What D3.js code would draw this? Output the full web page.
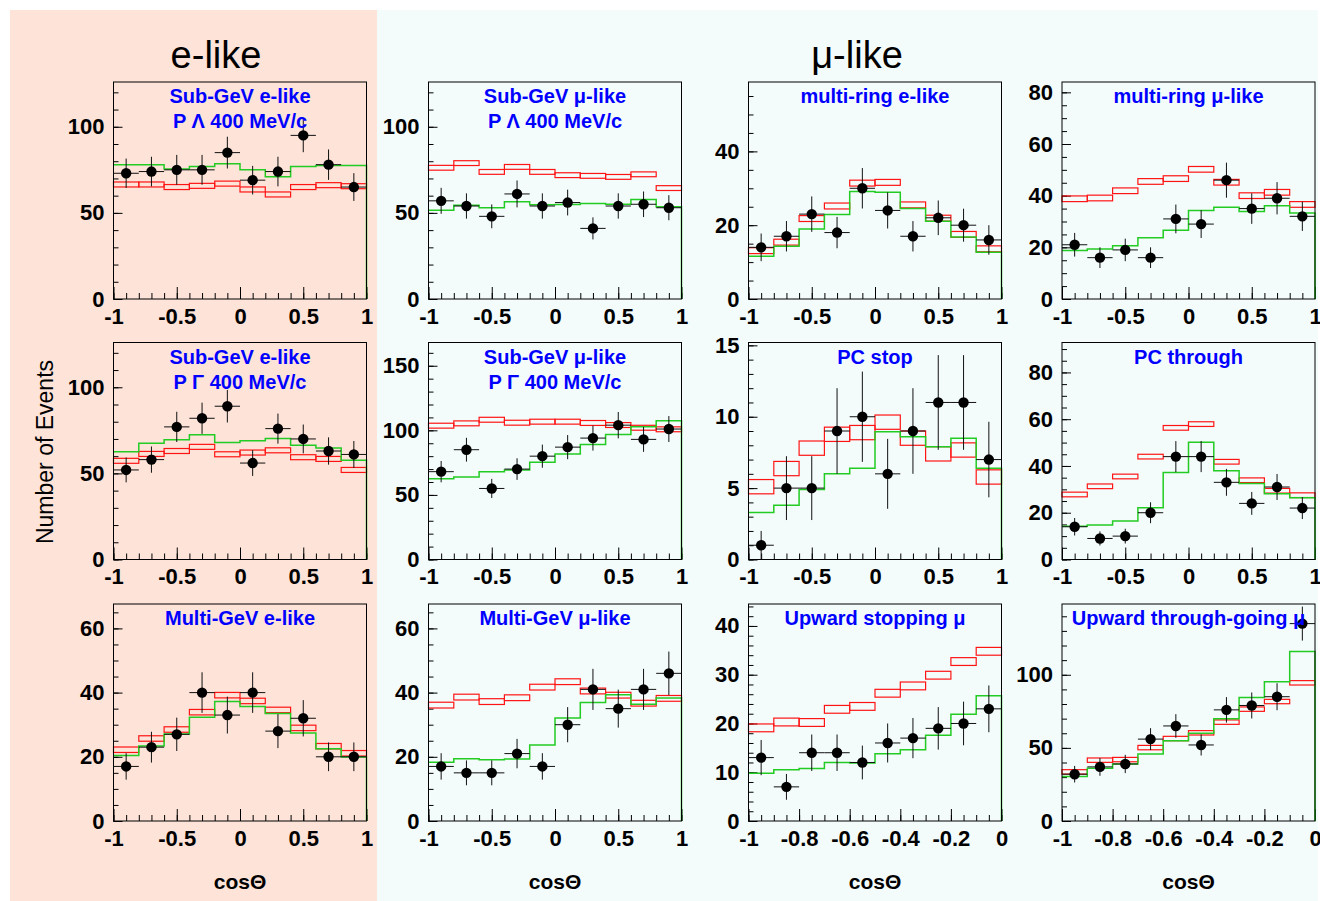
<!DOCTYPE html>
<html>
<head>
<meta charset="utf-8">
<title>Zenith angle distributions</title>
<script src="https://cdn.jsdelivr.net/npm/d3@7"></script>
<style>
  body { margin: 0; background: #fff; }
  svg { display: block; font-family: "Liberation Sans", Arial, Helvetica, sans-serif; }
  .frame { fill: none; stroke: #000; stroke-width: 1; }
  .axis text { font-size: 22px; font-weight: bold; fill: #000; font-family: "Liberation Sans", Arial, sans-serif; }
  .axis line { stroke: #000; stroke-width: 1; }
  .title { font-size: 20px; font-weight: bold; fill: #0000ff; }
  .osc { fill: none; stroke: #22cc22; stroke-width: 1.5; }
  .noosc { fill: none; stroke: #ff1414; stroke-width: 1.2; }
  .err { stroke: #111; stroke-width: 1; }
</style>
</head>
<body>
<svg width="1320" height="901"></svg>
<script>
// bin edges in cos(theta)
var binsFull = [-1, -0.8, -0.6, -0.4, -0.2, 0, 0.2, 0.4, 0.6, 0.8, 1];
var binsUp = [-1, -0.9, -0.8, -0.7, -0.6, -0.5, -0.4, -0.3, -0.2, -0.1, 0];

// tick labels
var ticksFull = [-1, -0.5, 0, 0.5, 1];
var ticksUp = [-1, -0.8, -0.6, -0.4, -0.2, 0];

// data points (events per bin), red = no oscillation band centre, green = oscillation fit
var obsSubGeVeLow   = [73, 74, 75, 75, 85, 69, 74, 95, 78, 65];
var nooscSubGeVeLow = [66.5, 66.5, 65, 65.7, 67, 63.6, 60.7, 65, 66.1, 65.5];
var oscSubGeVeLow   = [78, 78, 75.5, 77, 78.5, 75, 71, 77, 77.5, 77.5];

var obsSubGeVmuLow   = [57, 54, 48, 61, 54, 56, 41, 54, 55, 53];
var nooscSubGeVmuLow = [76.2, 78.9, 73.8, 76.7, 73.8, 71.9, 71.5, 70.9, 72.4, 64.4];
var oscSubGeVmuLow   = [51.5, 54.5, 53, 56.4, 54.7, 54.8, 55.4, 55, 57.8, 53.5];

var obsMultiRingE   = [14, 17, 23, 18, 30, 24, 17, 22, 20, 16];
var nooscMultiRingE = [13.1, 15.4, 21.8, 25.2, 31.4, 31.6, 25.5, 21.9, 17.5, 13.6];
var oscMultiRingE   = [11.6, 14.3, 19, 22.9, 29.1, 28.9, 24.5, 21.1, 16.8, 12.7];

var obsMultiRingMu   = [21, 16, 19, 16, 31, 29, 46, 35, 39, 32];
var nooscMultiRingMu = [38.8, 39.1, 41.9, 45.5, 46.6, 50.2, 45.2, 40, 41.3, 36.6];
var oscMultiRingMu   = [18.8, 19.4, 20.6, 23.7, 26.6, 34.3, 35.5, 33.9, 36.1, 33.3];

var obsSubGeVeHigh   = [52, 58, 77, 82, 89, 56, 76, 70, 63, 61];
var nooscSubGeVeHigh = [57.3, 61.3, 63, 65.4, 61.1, 62.1, 63.4, 59.4, 58.4, 52];
var oscSubGeVeHigh   = [62.5, 67.5, 69.6, 72.5, 67.9, 68.9, 70.2, 66.3, 64.8, 57.6];

var obsSubGeVmuHigh   = [68, 85, 55, 70, 80, 87, 94, 104, 93, 101];
var nooscSubGeVmuHigh = [103.6, 105.4, 108.2, 105.9, 106.7, 106.7, 105.7, 104.1, 102, 100.8];
var oscSubGeVmuHigh   = [62.5, 63.8, 67.9, 69.2, 75.3, 81.7, 89, 96.7, 102.8, 107.5];

var obsPCStop   = [1, 5, 5, 9, 10, 6, 9, 11, 11, 7];
var nooscPCStop = [5.1, 6.37, 7.8, 8.77, 8.89, 9.62, 8.5, 7.4, 7.67, 5.78];
var oscPCStop   = [3.3, 3.8, 4.9, 6, 6.4, 8.95, 8.6, 7.9, 8.5, 6.4];

var obsPCThrough   = [14, 9, 10, 20, 44, 44, 33, 24, 31, 22];
var nooscPCThrough = [27.8, 31.3, 35.5, 44, 56.3, 57.9, 41.8, 33.9, 29.4, 27.5];
var oscPCThrough   = [14.2, 14.8, 16.5, 22.1, 37.2, 50.1, 38, 32.5, 28.1, 26.4];

var obsMultiGeVe   = [17, 23, 27, 40, 33, 40, 28, 32, 20, 20];
var nooscMultiGeVe = [22.2, 25.7, 28.5, 33.9, 39.2, 37.4, 34.6, 29, 23.3, 21.1];
var oscMultiGeVe   = [20.4, 23.4, 27.1, 32.3, 37.2, 35.7, 33.5, 27.4, 22.5, 19.9];

var obsMultiGeVmu   = [17, 15, 15, 21, 17, 30, 41, 35, 41, 46];
var nooscMultiGeVmu = [36.1, 38.6, 37.2, 38.4, 41.7, 43.4, 40.5, 39.2, 36.7, 38.2];
var oscMultiGeVmu   = [18.3, 19.4, 19.1, 19.3, 23.7, 32.1, 36.9, 39.3, 36.4, 38.3];

var obsUpStop   = [13, 7, 14, 14, 12, 16, 17, 19, 20, 23];
var nooscUpStop = [19.1, 20.3, 20.2, 22.9, 23.5, 26.2, 27.7, 29.9, 32.7, 34.8];
var oscUpStop   = [9.8, 10.5, 10.75, 12, 11.9, 13.8, 14.6, 17.6, 21.9, 25.7];

var obsUpThru   = [32, 37, 39, 56, 65, 52, 76, 79, 85, 135];
var nooscUpThru = [33.6, 41.6, 42, 50.2, 56.4, 60.3, 67.6, 76.5, 81.7, 94.5];
var oscUpThru   = [30.4, 36.1, 39, 45.9, 54.8, 60, 69.9, 84.5, 95.2, 116];

// half height of the red no-oscillation band per panel
var nooscBand = [1.45, 1.4, 0.8, 1.1, 1.45, 1.9, 0.5, 1.0, 0.85, 0.9, 0.8, 1.5];

var panelTitles = [
    ["Sub-GeV e-like", "P \u039B 400 MeV/c"], ["Sub-GeV \u03BC-like", "P \u039B 400 MeV/c"],
    ["multi-ring e-like"], ["multi-ring \u03BC-like"],
    ["Sub-GeV e-like", "P \u0393 400 MeV/c"], ["Sub-GeV \u03BC-like", "P \u0393 400 MeV/c"],
    ["PC stop"], ["PC through"],
    ["Multi-GeV e-like"], ["Multi-GeV \u03BC-like"],
    ["Upward stopping \u03BC"], ["Upward through-going \u03BC"]
];

// y axis: max, major step, minor step
var yMax   = [126, 126, 58.8, 84, 126, 168, 15.2, 92.8, 67.6, 67.6, 44.5, 148.4];
var yMajor = [50, 50, 20, 20, 50, 50, 5, 20, 20, 20, 10, 50];
var yMinor = [10, 10, 5, 5, 10, 10, 1, 5, 5, 5, 2, 10];

var obsAll = [obsSubGeVeLow, obsSubGeVmuLow, obsMultiRingE, obsMultiRingMu,
              obsSubGeVeHigh, obsSubGeVmuHigh, obsPCStop, obsPCThrough,
              obsMultiGeVe, obsMultiGeVmu, obsUpStop, obsUpThru];
var nooscAll = [nooscSubGeVeLow, nooscSubGeVmuLow, nooscMultiRingE, nooscMultiRingMu,
                nooscSubGeVeHigh, nooscSubGeVmuHigh, nooscPCStop, nooscPCThrough,
                nooscMultiGeVe, nooscMultiGeVmu, nooscUpStop, nooscUpThru];
var oscAll = [oscSubGeVeLow, oscSubGeVmuLow, oscMultiRingE, oscMultiRingMu,
              oscSubGeVeHigh, oscSubGeVmuHigh, oscPCStop, oscPCThrough,
              oscMultiGeVe, oscMultiGeVmu, oscUpStop, oscUpThru];

var svg = d3.select("svg");

// backgrounds
svg.append("rect").attr("x", 10).attr("y", 10).attr("width", 367).attr("height", 891).attr("fill", "#fde3d8");
svg.append("rect").attr("x", 377).attr("y", 10).attr("width", 941).attr("height", 891).attr("fill", "#f4fbfb");

var colX = [113.5, 428.5, 748.5, 1062];
var rowY = [82, 342.5, 604];
var W = 253, H = 217;

panelTitles.forEach(function(title, p) {
    var row = Math.floor(p / 4), col = p % 4;
    var left = colX[col], top = rowY[row];
    var up = row == 2 && col >= 2;
    var edges = up ? binsUp : binsFull;

    var x = d3.scaleLinear().domain(up ? [-1, 0] : [-1, 1]).range([left, left + W]);
    var y = d3.scaleLinear().domain([0, yMax[p]]).range([top + H, top]);
    var g = svg.append("g");

    // axes (ticks inside the frame)
    var xMinorTicks = d3.range(up ? -1 : -1, (up ? 0 : 1) + 1e-9, up ? 0.05 : 0.1);
    var yMinorTicks = d3.range(0, yMax[p], yMinor[p]);
    var yMajorTicks = d3.range(0, yMax[p] + 1e-9, yMajor[p]);

    g.append("g").attr("class", "axis")
        .attr("transform", "translate(0," + (top + H) + ")")
        .call(d3.axisBottom(x).tickValues(xMinorTicks).tickSize(-6).tickFormat(""))
        .call(function(a) { a.select(".domain").remove(); });
    g.append("g").attr("class", "axis")
        .attr("transform", "translate(0," + (top + H) + ")")
        .call(d3.axisBottom(x).tickValues(up ? ticksUp : ticksFull).tickSize(-12).tickPadding(9)
            .tickFormat(function(d) { return String(d); }))
        .call(function(a) { a.select(".domain").remove(); });
    g.append("g").attr("class", "axis")
        .attr("transform", "translate(" + left + ",0)")
        .call(d3.axisLeft(y).tickValues(yMinorTicks).tickSize(-5).tickFormat(""))
        .call(function(a) { a.select(".domain").remove(); });
    g.append("g").attr("class", "axis")
        .attr("transform", "translate(" + left + ",0)")
        .call(d3.axisLeft(y).tickValues(yMajorTicks).tickSize(-9).tickPadding(9)
            .tickFormat(function(d) { return String(d); }))
        .call(function(a) { a.select(".domain").remove(); });

    // red no-oscillation boxes
    g.selectAll(".noosc").data(nooscAll[p]).enter().append("rect")
        .attr("class", "noosc")
        .attr("x", function(d, i) { return x(edges[i]); })
        .attr("width", function(d, i) { return x(edges[i + 1]) - x(edges[i]); })
        .attr("y", function(d) { return y(d + nooscBand[p]); })
        .attr("height", function(d) { return y(d - nooscBand[p]) - y(d + nooscBand[p]); });

    // green oscillation histogram
    var path = d3.path();
    oscAll[p].forEach(function(v, i) {
        if (i == 0) path.moveTo(x(edges[0]), y(v));
        else path.lineTo(x(edges[i]), y(v));
        path.lineTo(x(edges[i + 1]), y(v));
    });
    path.lineTo(x(edges[edges.length - 1]), y(0));
    g.append("path").attr("class", "osc").attr("d", path.toString());

    g.append("rect").attr("class", "frame")
        .attr("x", left).attr("y", top).attr("width", W).attr("height", H);

    // data points with errors
    var pts = g.selectAll(".pt").data(obsAll[p]).enter().append("g");
    pts.append("line").attr("class", "err")
        .attr("x1", function(d, i) { return x(edges[i]); })
        .attr("x2", function(d, i) { return x(edges[i + 1]); })
        .attr("y1", function(d) { return y(d); })
        .attr("y2", function(d) { return y(d); });
    pts.append("line").attr("class", "err")
        .attr("x1", function(d, i) { return x((edges[i] + edges[i + 1]) / 2); })
        .attr("x2", function(d, i) { return x((edges[i] + edges[i + 1]) / 2); })
        .attr("y1", function(d) { return y(Math.min(yMax[p], d + Math.sqrt(d))); })
        .attr("y2", function(d) { return y(Math.max(0, d - Math.sqrt(d))); });
    pts.append("circle")
        .attr("cx", function(d, i) { return x((edges[i] + edges[i + 1]) / 2); })
        .attr("cy", function(d) { return y(d); })
        .attr("r", 5.2)
        .attr("fill", "#000");

    // panel title
    title.forEach(function(t, k) {
        g.append("text").attr("class", "title")
            .attr("x", left + W / 2).attr("y", top + 21 + k * 25)
            .attr("text-anchor", "middle").text(t);
    });
});

// headers and axis titles
svg.append("text").attr("x", 216).attr("y", 68).attr("text-anchor", "middle")
    .style("font-size", "38px").text("e-like");
svg.append("text").attr("x", 857).attr("y", 68).attr("text-anchor", "middle")
    .style("font-size", "38px").text("\u03BC-like");
svg.append("text").attr("transform", "translate(53,452) rotate(-90)").attr("text-anchor", "middle")
    .style("font-size", "23px").text("Number of Events");
colX.forEach(function(cx) {
    svg.append("text").attr("x", cx + W / 2).attr("y", 889).attr("text-anchor", "middle")
        .style("font-size", "21px").style("font-weight", "bold").text("cos\u0398");
});
</script>
</body>
</html>
